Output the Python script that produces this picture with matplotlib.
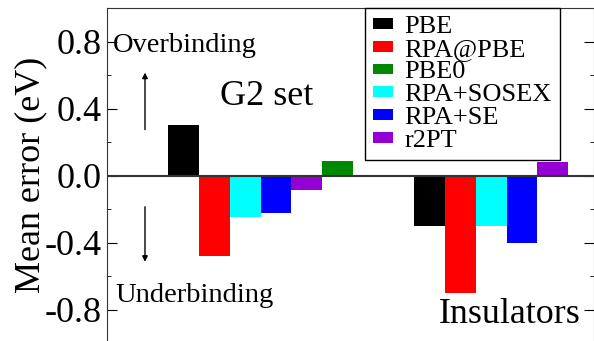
import matplotlib
matplotlib.use("Agg")
import matplotlib.pyplot as plt
from matplotlib.ticker import MultipleLocator

plt.rcParams['font.family'] = ['Liberation Serif', 'DejaVu Serif']

methods = ["PBE", "RPA@PBE", "PBE0", "RPA+SOSEX", "RPA+SE", "r2PT"]
colors = {"PBE": "black", "RPA@PBE": "#ff0000", "PBE0": "#008800",
          "RPA+SOSEX": "#00ffff", "RPA+SE": "#0000ff", "r2PT": "#9400d3"}

# bar order inside each group
g2_order = ["PBE", "RPA@PBE", "RPA+SOSEX", "RPA+SE", "r2PT", "PBE0"]
g2_vals = [0.30, -0.48, -0.245, -0.22, -0.085, 0.09]
ins_order = ["PBE", "RPA@PBE", "RPA+SOSEX", "RPA+SE", "r2PT"]
ins_vals = [-0.30, -0.70, -0.30, -0.40, 0.08]

fig = plt.figure(figsize=(5.94, 3.41), dpi=100)
ax = fig.add_axes([107/594, -2.5/341, 487/594, 335.5/341])

handles = {}
for i, (m, v) in enumerate(zip(g2_order, g2_vals)):
    handles[m] = ax.bar(2 + i, v, width=1.0, color=colors[m], label=m)
for i, (m, v) in enumerate(zip(ins_order, ins_vals)):
    ax.bar(10 + i, v, width=1.0, color=colors[m])

ax.axhline(0, color="#333333", lw=1.5, zorder=3)
ax.set_xlim(-0.5, 15.34)
ax.set_ylim(-1.0, 1.0)
ax.set_xticks([])
ax.yaxis.set_minor_locator(MultipleLocator(0.2))
ax.set_yticks([-0.8, -0.4, 0.0, 0.4, 0.8])
ax.set_yticklabels(["-0.8", "-0.4", "0.0", "0.4", "0.8"])
ax.tick_params(axis="y", which="major", left=True, right=True, direction="in",
               length=7, labelsize=26, pad=4)
ax.tick_params(axis="y", which="minor", left=True, right=True, direction="in",
               length=3)
for sp in ax.spines.values():
    sp.set_color("#333333")
ax.set_ylabel("Mean error (eV)", fontsize=26)
ax.yaxis.set_label_coords(-0.123, 0.502)

leg = ax.legend([handles[m] for m in methods], methods, loc="upper left",
                bbox_to_anchor=(258/487, 1.0), borderaxespad=0, fontsize=19,
                frameon=True, fancybox=False, framealpha=1, edgecolor="black",
                handlelength=0.75, handleheight=0.25, handletextpad=0.45,
                labelspacing=0.03, borderpad=0.3)
leg.get_frame().set_linewidth(1.0)

ax.text(6/487, 0.74, "Overbinding", transform=ax.get_yaxis_transform(),
        fontsize=20.5, va="baseline", ha="left")
ax.text(8/487, -0.752, "Underbinding", transform=ax.get_yaxis_transform(),
        fontsize=20.5, va="baseline", ha="left")
ax.text(4.7, 0.424, "G2 set", fontsize=26, ha="center", va="baseline")
ax.text(12.6, -0.878, "Insulators", fontsize=25.8, ha="center", va="baseline")

arrow = dict(arrowstyle="-|>", lw=1.0, color="black", mutation_scale=8,
             shrinkA=0, shrinkB=0)
ax.annotate("", xy=(38/487, 0.615), xytext=(38/487, 0.275),
            xycoords=ax.get_yaxis_transform(), arrowprops=arrow)
ax.annotate("", xy=(38/487, -0.513), xytext=(38/487, -0.185),
            xycoords=ax.get_yaxis_transform(), arrowprops=arrow)

fig.savefig("out.png", dpi=100)
